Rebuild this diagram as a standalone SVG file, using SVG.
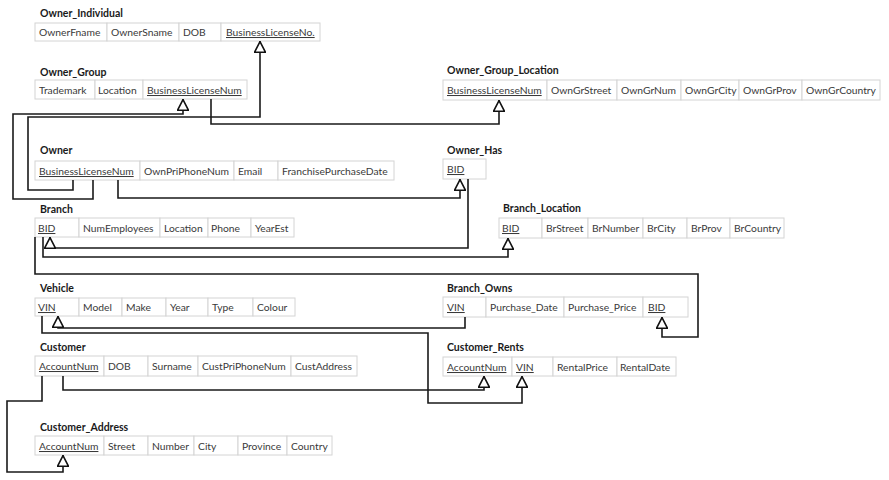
<svg xmlns="http://www.w3.org/2000/svg" width="889" height="480" viewBox="0 0 889 480">
<style>
.c{fill:#fff;stroke:#d4d4d4;stroke-width:1}
.t{font-family:Lato,"Open Sans","Liberation Sans",sans-serif;font-size:10.3px;fill:#3a3a3a}
.k{text-decoration:underline}
.h{font-family:Lato,"Open Sans","Liberation Sans",sans-serif;font-size:10.5px;font-weight:bold;fill:#1a1a1a}
.l{fill:none;stroke:#1a1a1a;stroke-width:1.6;marker-end:url(#tri)}
</style>
<defs>
<marker id="tri" viewBox="0 0 10 10" refX="10" refY="5" markerWidth="12" markerHeight="12" markerUnits="userSpaceOnUse" orient="auto">
<path d="M0.7,0.5 L9.5,5 L0.7,9.5 z" fill="#fff" stroke="#111" stroke-width="1.3"/>
</marker>
</defs>
<rect width="889" height="480" fill="#fff"/>

<g id="Owner_Individual">
<text class="h" x="40" y="17">Owner_Individual</text>
<rect class="c" x="35" y="23" width="72" height="18"/><rect class="c" x="107" y="23" width="72" height="18"/><rect class="c" x="179" y="23" width="42" height="18"/><rect class="c" x="221" y="23" width="99" height="18"/>
<text class="t" x="39" y="36">OwnerFname</text><text class="t" x="111" y="36">OwnerSname</text><text class="t" x="183" y="36">DOB</text><text class="t k" x="226" y="36">BusinessLicenseNo.</text>
</g>

<g id="Owner_Group">
<text class="h" x="40" y="76">Owner_Group</text>
<rect class="c" x="35" y="80" width="60" height="19"/><rect class="c" x="95" y="80" width="48" height="19"/><rect class="c" x="143" y="80" width="104" height="19"/>
<text class="t" x="39" y="94">Trademark</text><text class="t" x="98" y="94">Location</text><text class="t k" x="147" y="94">BusinessLicenseNum</text>
</g>

<g id="Owner_Group_Location">
<text class="h" x="447" y="74">Owner_Group_Location</text>
<rect class="c" x="443" y="80" width="104" height="20"/><rect class="c" x="547" y="80" width="70" height="20"/><rect class="c" x="617" y="80" width="64" height="20"/><rect class="c" x="681" y="80" width="58" height="20"/><rect class="c" x="739" y="80" width="63" height="20"/><rect class="c" x="802" y="80" width="78" height="20"/>
<text class="t k" x="447" y="94">BusinessLicenseNum</text><text class="t" x="551" y="94">OwnGrStreet</text><text class="t" x="621" y="94">OwnGrNum</text><text class="t" x="685" y="94">OwnGrCity</text><text class="t" x="743" y="94">OwnGrProv</text><text class="t" x="806" y="94">OwnGrCountry</text>
</g>

<g id="Owner">
<text class="h" x="40" y="154">Owner</text>
<rect class="c" x="35" y="161" width="105" height="19"/><rect class="c" x="140" y="161" width="94" height="19"/><rect class="c" x="234" y="161" width="44" height="19"/><rect class="c" x="278" y="161" width="116" height="19"/>
<text class="t k" x="39" y="175">BusinessLicenseNum</text><text class="t" x="144" y="175">OwnPriPhoneNum</text><text class="t" x="238" y="175">Email</text><text class="t" x="282" y="175">FranchisePurchaseDate</text>
</g>

<g id="Owner_Has">
<text class="h" x="447" y="154">Owner_Has</text>
<rect class="c" x="443" y="159" width="43" height="20"/>
<text class="t k" x="447" y="173">BID</text>
</g>

<g id="Branch">
<text class="h" x="40" y="213">Branch</text>
<rect class="c" x="35" y="218" width="44" height="19"/><rect class="c" x="79" y="218" width="81" height="19"/><rect class="c" x="160" y="218" width="48" height="19"/><rect class="c" x="208" y="218" width="43" height="19"/><rect class="c" x="251" y="218" width="43" height="19"/>
<text class="t k" x="38" y="232">BID</text><text class="t" x="83" y="232">NumEmployees</text><text class="t" x="164" y="232">Location</text><text class="t" x="211" y="232">Phone</text><text class="t" x="255" y="232">YearEst</text>
</g>

<g id="Branch_Location">
<text class="h" x="503" y="212">Branch_Location</text>
<rect class="c" x="499" y="218" width="43" height="20"/><rect class="c" x="542" y="218" width="46" height="20"/><rect class="c" x="588" y="218" width="55" height="20"/><rect class="c" x="643" y="218" width="44" height="20"/><rect class="c" x="687" y="218" width="43" height="20"/><rect class="c" x="730" y="218" width="54" height="20"/>
<text class="t k" x="502" y="232">BID</text><text class="t" x="546" y="232">BrStreet</text><text class="t" x="592" y="232">BrNumber</text><text class="t" x="647" y="232">BrCity</text><text class="t" x="691" y="232">BrProv</text><text class="t" x="734" y="232">BrCountry</text>
</g>

<g id="Vehicle">
<text class="h" x="40" y="292">Vehicle</text>
<rect class="c" x="35" y="298" width="44" height="18"/><rect class="c" x="79" y="298" width="43" height="18"/><rect class="c" x="122" y="298" width="44" height="18"/><rect class="c" x="166" y="298" width="42" height="18"/><rect class="c" x="208" y="298" width="45" height="18"/><rect class="c" x="253" y="298" width="42" height="18"/>
<text class="t k" x="38" y="311">VIN</text><text class="t" x="83" y="311">Model</text><text class="t" x="126" y="311">Make</text><text class="t" x="170" y="311">Year</text><text class="t" x="212" y="311">Type</text><text class="t" x="257" y="311">Colour</text>
</g>

<g id="Branch_Owns">
<text class="h" x="447" y="292">Branch_Owns</text>
<rect class="c" x="443" y="297" width="43" height="20"/><rect class="c" x="486" y="297" width="78" height="20"/><rect class="c" x="564" y="297" width="79" height="20"/><rect class="c" x="643" y="297" width="45" height="20"/>
<text class="t k" x="447" y="311">VIN</text><text class="t" x="490" y="311">Purchase_Date</text><text class="t" x="568" y="311">Purchase_Price</text><text class="t k" x="648" y="311">BID</text>
</g>

<g id="Customer">
<text class="h" x="40" y="351">Customer</text>
<rect class="c" x="35" y="356" width="69" height="20"/><rect class="c" x="104" y="356" width="44" height="20"/><rect class="c" x="148" y="356" width="50" height="20"/><rect class="c" x="198" y="356" width="93" height="20"/><rect class="c" x="291" y="356" width="66" height="20"/>
<text class="t k" x="39" y="370">AccountNum</text><text class="t" x="108" y="370">DOB</text><text class="t" x="152" y="370">Surname</text><text class="t" x="202" y="370">CustPriPhoneNum</text><text class="t" x="295" y="370">CustAddress</text>
</g>

<g id="Customer_Rents">
<text class="h" x="447" y="351">Customer_Rents</text>
<rect class="c" x="443" y="357" width="69" height="19"/><rect class="c" x="512" y="357" width="41" height="19"/><rect class="c" x="553" y="357" width="64" height="19"/><rect class="c" x="617" y="357" width="59" height="19"/>
<text class="t k" x="447" y="371">AccountNum</text><text class="t k" x="516" y="371">VIN</text><text class="t" x="557" y="371">RentalPrice</text><text class="t" x="620" y="371">RentalDate</text>
</g>

<g id="Customer_Address">
<text class="h" x="40" y="431">Customer_Address</text>
<rect class="c" x="35" y="436" width="69" height="19"/><rect class="c" x="104" y="436" width="44" height="19"/><rect class="c" x="148" y="436" width="46" height="19"/><rect class="c" x="194" y="436" width="44" height="19"/><rect class="c" x="238" y="436" width="49" height="19"/><rect class="c" x="287" y="436" width="45" height="19"/>
<text class="t k" x="39" y="450">AccountNum</text><text class="t" x="108" y="450">Street</text><text class="t" x="152" y="450">Number</text><text class="t" x="198" y="450">City</text><text class="t" x="242" y="450">Province</text><text class="t" x="291" y="450">Country</text>
</g>

<g id="connectors">
<polyline class="l" points="73,180 73,190 28,190 28,117 260,117 260,41"/>
<polyline class="l" points="93,180 93,199 13,199 13,114 183,114 183,99"/>
<polyline class="l" points="211,99 211,124 499,124 499,100"/>
<polyline class="l" points="118,180 118,198 460,198 460,179"/>
<polyline class="l" points="468,179 468,248 50,248 50,237"/>
<polyline class="l" points="43,237 43,257 508,257 508,238"/>
<polyline class="l" points="35,237 35,274 698,274 698,337 662,337 662,317"/>
<polyline class="l" points="465,317 465,328 58,328 58,316"/>
<polyline class="l" points="42,316 42,333 428,333 428,403 522,403 522,376"/>
<polyline class="l" points="63,376 63,390 484,390 484,376"/>
<polyline class="l" points="42,376 42,401 7,401 7,472 63,472 63,455"/>
</g>
</svg>
